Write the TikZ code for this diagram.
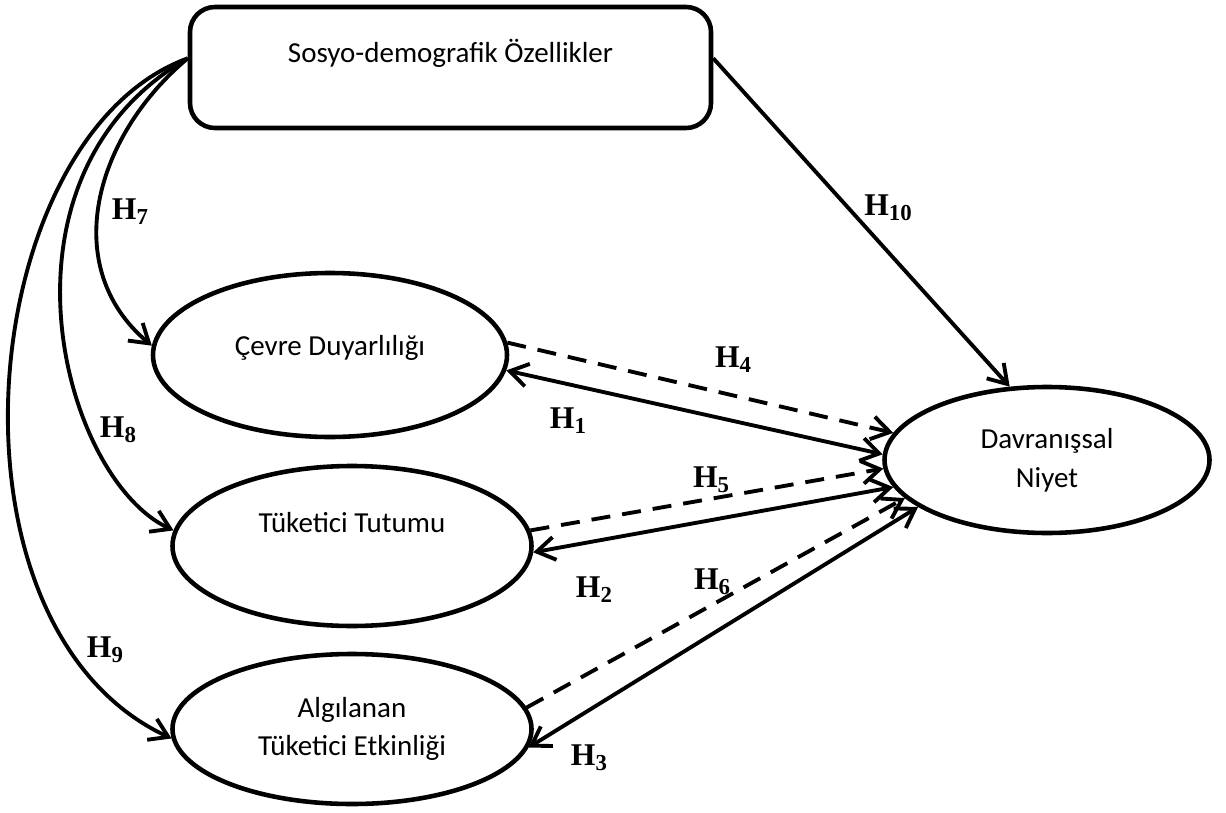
\documentclass[tikz,border=0pt]{standalone}
\usepackage{fontspec}
\setmainfont{Liberation Serif}
\newfontfamily\calibri{Carlito}
\usetikzlibrary{shapes.geometric,arrows.meta}
\newcommand{\hsub}[1]{\textbf{H\raisebox{-0.15em}{\fontsize{13}{13}\selectfont #1}}}

\begin{document}
\begin{tikzpicture}[
    rbox/.style={draw,rectangle,rounded corners=0.5cm,line width=2.6pt,inner sep=0pt,
      font={\calibri\fontsize{16.5}{22}\selectfont}},
    oval/.style={draw,ellipse,line width=2.6pt,inner sep=0pt,align=center,
      font={\calibri\fontsize{16.5}{22}\selectfont}},
    hlab/.style={inner sep=0pt,font={\fontsize{18}{18}\selectfont}},
    arr/.style={line width=2.2pt,-{Straight Barb[length=3.6mm,width=4.6mm]}},
    darr/.style={arr,dash pattern=on 0.38cm off 0.24cm},
    link/.style={line width=2.2pt,{Straight Barb[length=3.6mm,width=4.6mm]}-{Straight Barb[length=3.6mm,width=4.6mm]}}
  ]
            \useasboundingbox (0,0) rectangle (24.52,16.24);
            \node[rbox,minimum width=10.42cm,minimum height=2.42cm,text height=0.45cm,text depth=0.63cm] (sosyo) at (9.01,14.89) {Sosyo-demografik Özellikler};
            \node[oval,minimum width=7.08cm,minimum height=3.28cm,text height=0.4cm,text depth=0.4cm] (cevre) at (6.6,9.14) {Çevre Duyarlılığı};
            \node[oval,minimum width=7.18cm,minimum height=3.2cm,text height=0.4cm,text depth=0.96cm] (tutum) at (7.04,5.32) {Tüketici Tutumu};
            \node[oval,minimum width=7.18cm,minimum height=3.0cm] (algi) at (7.04,1.66) {Algılanan\\Tüketici Etkinliği};
            \node[oval,minimum width=6.5cm,minimum height=2.92cm] (niyet) at (20.94,7.04) {Davranışsal\\Niyet};
            \draw[arr] (sosyo.178) to[out=220,in=140,looseness=1.08] (cevre.177);
            \draw[arr] (sosyo.178) to[out=210,in=155,out looseness=1.28,in looseness=0.67] (tutum.175);
            \draw[arr] (sosyo.178) to[out=200,in=155,out looseness=0.85,in looseness=1.0] (algi.183);
            \draw[arr] (sosyo.2) -- (niyet.117);
            \draw[darr] (cevre.4) -- (niyet.170);
            \draw[link] (cevre.-5) -- (niyet.178);
            \draw[darr] (tutum.5) -- (niyet.183);
            \draw[link] (tutum.-2) -- (niyet.190);
            \draw[darr] (algi.7) -- (niyet.195);
            \draw[link] (algi.-6) -- (niyet.200);
            \node[hlab] (h7) at (2.6,12.0) {\hsub{7}};
            \node[hlab] (h8) at (2.36,7.64) {\hsub{8}};
            \node[hlab] (h9) at (2.1,3.24) {\hsub{9}};
            \node[hlab] (h10) at (17.76,12.08) {\hsub{10}};
            \node[hlab] (h4) at (14.66,9.04) {\hsub{4}};
            \node[hlab] (h1) at (11.36,7.82) {\hsub{1}};
            \node[hlab] (h5) at (14.22,6.64) {\hsub{5}};
            \node[hlab] (h2) at (11.88,4.44) {\hsub{2}};
            \node[hlab] (h6) at (14.24,4.6) {\hsub{6}};
            \node[hlab] (h3) at (11.78,1.08) {\hsub{3}};
\end{tikzpicture}
\end{document}
